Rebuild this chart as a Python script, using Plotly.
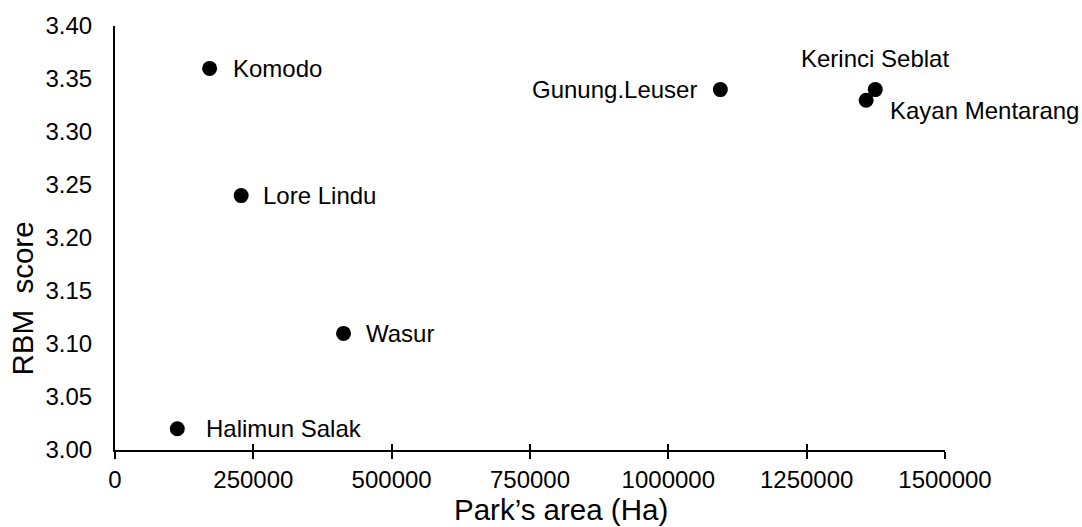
import plotly.graph_objects as go

parks = ["Komodo", "Lore Lindu", "Wasur", "Halimun Salak", "Gunung.Leuser", "Kerinci Seblat", "Kayan Mentarang"]
area_ha = [171000, 228000, 413000, 112600, 1094000, 1374000, 1357500]
rbm_score = [3.36, 3.24, 3.11, 3.02, 3.34, 3.34, 3.33]

x_ticks = [0, 250000, 500000, 750000, 1000000, 1250000, 1500000]
y_ticks = [3.00, 3.05, 3.10, 3.15, 3.20, 3.25, 3.30, 3.35, 3.40]

x_title = "Park’s area (Ha)"
y_title = "RBM\u00a0 score"

# label placement style (xanchor, xshift, yshift) per park
label_style = {
    "Komodo": ("left", 21, 0),
    "Lore Lindu": ("left", 20, 0),
    "Wasur": ("left", 20, 0),
    "Halimun Salak": ("left", 27, 0),
    "Gunung.Leuser": ("right", -21, 0),
    "Kerinci Seblat": ("center", 0, 31),
    "Kayan Mentarang": ("left", 22, -10),
}

FONT = "Liberation Sans, Arial, sans-serif"

fig = go.Figure()
fig.add_trace(go.Scatter(
    x=area_ha, y=rbm_score, mode="markers",
    marker=dict(color="black", size=15),
    showlegend=False, hoverinfo="skip",
))
# invisible copy on the overlay axis so its inside ticks are drawn (cross ticks)
fig.add_trace(go.Scatter(x=area_ha, y=rbm_score, xaxis="x2", mode="markers",
                         marker=dict(size=1, opacity=0), showlegend=False, hoverinfo="skip"))

for name, xv, yv in zip(parks, area_ha, rbm_score):
    anchor, xs, ys = label_style[name]
    fig.add_annotation(x=xv, y=yv, text=name, showarrow=False,
                       xanchor=anchor, yanchor="middle", xshift=xs, yshift=ys,
                       font=dict(family=FONT, size=24, color="black"))

fig.add_annotation(xref="paper", yref="paper", x=0.5379, y=-0.1408, text=x_title,
                   showarrow=False, xanchor="center", yanchor="middle",
                   font=dict(family=FONT, size=29.5, color="black"))
fig.add_annotation(xref="paper", yref="paper", x=-0.1111, y=0.3568, text=y_title,
                   showarrow=False, xanchor="center", yanchor="middle", textangle=-90,
                   font=dict(family=FONT, size=29.5, color="black"))

fig.update_layout(
    width=1082, height=527,
    margin=dict(l=115, r=137, t=24, b=77),
    paper_bgcolor="white", plot_bgcolor="white",
    font=dict(family=FONT, color="black"),
    xaxis=dict(
        range=[0, 1500000], tickvals=x_ticks, ticktext=[str(v) for v in x_ticks],
        showline=True, linecolor="black", linewidth=2,
        ticks="outside", ticklen=7, tickwidth=2, tickcolor="black",
        showgrid=False, zeroline=False,
        tickfont=dict(family=FONT, size=24),
    ),
    xaxis2=dict(
        range=[0, 1500000], tickvals=x_ticks, overlaying="x", anchor="y",
        side="bottom", showticklabels=False,
        ticks="inside", ticklen=6, tickwidth=2, tickcolor="black",
        showgrid=False, zeroline=False, showline=False,
    ),
    yaxis=dict(
        range=[3.0, 3.4], tickvals=y_ticks, ticktext=[f"{v:.2f}" for v in y_ticks],
        showline=True, linecolor="black", linewidth=2,
        ticks="", showgrid=False, zeroline=False,
        tickfont=dict(family=FONT, size=24), ticklabelstandoff=16,
    ),
)

fig.write_html("out.html", config={"displayModeBar": False},
               post_script="document.body.style.margin='0';document.body.style.overflow='hidden';")
